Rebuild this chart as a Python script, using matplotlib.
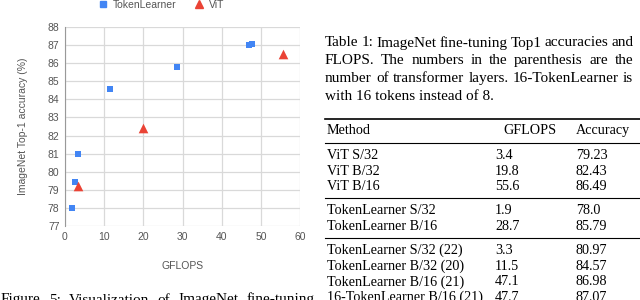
import matplotlib
matplotlib.use("Agg")
import matplotlib.pyplot as plt
from matplotlib.lines import Line2D

# scatter data (GFLOPS, ImageNet top-1 accuracy)
tl_gflops = [1.9, 2.6, 3.3, 11.5, 28.7, 47.1, 47.7]
tl_acc = [78.0, 79.45, 80.97, 84.57, 85.79, 86.98, 87.07]
vit_gflops = [3.4, 19.8, 55.6]
vit_acc = [79.23, 82.43, 86.49]

# table on the right
caption_lines = [
    "Table 1: ImageNet fine-tuning Top1 accuracies and",
    "FLOPS. The numbers in the parenthesis are the",
    "number of transformer layers. 16-TokenLearner is",
    "with 16 tokens instead of 8.",
]
header = ["Method", "GFLOPS", "Accuracy"]
table_groups = [
    [("ViT S/32", "3.4", "79.23"), ("ViT B/32", "19.8", "82.43"), ("ViT B/16", "55.6", "86.49")],
    [("TokenLearner S/32", "1.9", "78.0"), ("TokenLearner B/16", "28.7", "85.79")],
    [("TokenLearner S/32 (22)", "3.3", "80.97"), ("TokenLearner B/32 (20)", "11.5", "84.57"),
     ("TokenLearner B/16 (21)", "47.1", "86.98"), ("16-TokenLearner B/16 (21)", "47.7", "87.07")],
]
fig_caption = "Figure 5: Visualization of ImageNet fine-tuning"

W, H = 640, 300
fig = plt.figure(figsize=(6.4, 3.0), dpi=100)
renderer = fig.canvas.get_renderer()

def fx(px):
    return px / W

def fy(py):
    return 1 - py / H

sans = ["Liberation Sans", "DejaVu Sans"]
serif = ["Liberation Serif", "DejaVu Serif"]
grey = "#555555"

def justified(line, x0, x1, y, **kw):
    # place words one by one so the line fills x0..x1
    words = line.split()
    texts = [fig.text(0, fy(y), w, **kw) for w in words]
    widths = [t.get_window_extent(renderer).width for t in texts]
    gap = (x1 - x0 - sum(widths)) / (len(words) - 1)
    x = x0
    for t, w in zip(texts, widths):
        t.set_x(fx(x))
        x += w + gap

# ---- scatter chart ----
ax = fig.add_axes([fx(65), fy(226), fx(300) - fx(65), fy(27) - fy(226)])
ax.scatter(tl_gflops, tl_acc, marker="s", s=22, color="#4285F4", zorder=3, linewidths=0)
ax.scatter(vit_gflops, vit_acc, marker="^", s=48, color="#EA4335", zorder=3, linewidths=0)
ax.set_xlim(0, 60)
ax.set_ylim(77, 88)
ax.set_xticks(range(0, 61, 10))
ax.set_yticks(range(77, 89))
ax.grid(True, color="#d9d9d9", linewidth=0.9)
ax.set_axisbelow(True)
for side in ["top", "right", "bottom"]:
    ax.spines[side].set_visible(False)
ax.spines["left"].set_color("#999999")
ax.tick_params(length=0, labelsize=7.5, labelcolor=grey, pad=4)
for lab in ax.get_xticklabels() + ax.get_yticklabels():
    lab.set_family(sans)
ax.set_xlabel("GFLOPS", fontsize=7.5, color=grey, family=sans, labelpad=14)
ax.set_ylabel("ImageNet Top-1 accuracy (%)", fontsize=7.5, color=grey, family=sans, labelpad=14)

# legend
fig.legend(handles=[Line2D([], [], marker="s", ls="", color="#4285F4", markersize=5),
                    Line2D([], [], marker="^", ls="", color="#EA4335", markersize=5.5)],
           labels=["TokenLearner", "ViT"], loc="center", bbox_to_anchor=(fx(161), fy(5)),
           ncol=2, frameon=False, prop={"family": sans, "size": 7.5}, labelcolor=grey,
           handletextpad=0.5, columnspacing=1.6, handlelength=1.0)

# ---- caption and table ----
text_kw = dict(family=serif, fontsize=10.2, va="baseline")
cap_kw = dict(family=serif, fontsize=11, va="baseline")
for i, line in enumerate(caption_lines):
    y = 46.5 + i * 17.7
    if i < len(caption_lines) - 1:
        justified(line, 325, 633, y, **cap_kw)
    else:
        fig.text(fx(325), fy(y), line, **cap_kw)

def rule(y, lw):
    fig.add_artist(Line2D([fx(325), fx(640)], [fy(y), fy(y)], color="black", lw=lw))

col_x = [327, 495, 576]
rule(119, 1.2)
fig.text(fx(327), fy(134.5), header[0], **text_kw)
fig.text(fx(503), fy(134.5), header[1], **text_kw)
fig.text(fx(576), fy(134.5), header[2], **text_kw)
rule(143, 0.8)

y = 159
for g, group in enumerate(table_groups):
    for r, row in enumerate(group):
        for x, cell in zip(col_x, row):
            fig.text(fx(x), fy(y), cell, **text_kw)
        if r < len(group) - 1:
            y += 15.7
    if g < len(table_groups) - 1:
        rule(y + 8, 0.8)
        y += 24

justified(fig_caption, 1, 315, 303.5, **cap_kw)

fig.savefig("out.png", dpi=100)
